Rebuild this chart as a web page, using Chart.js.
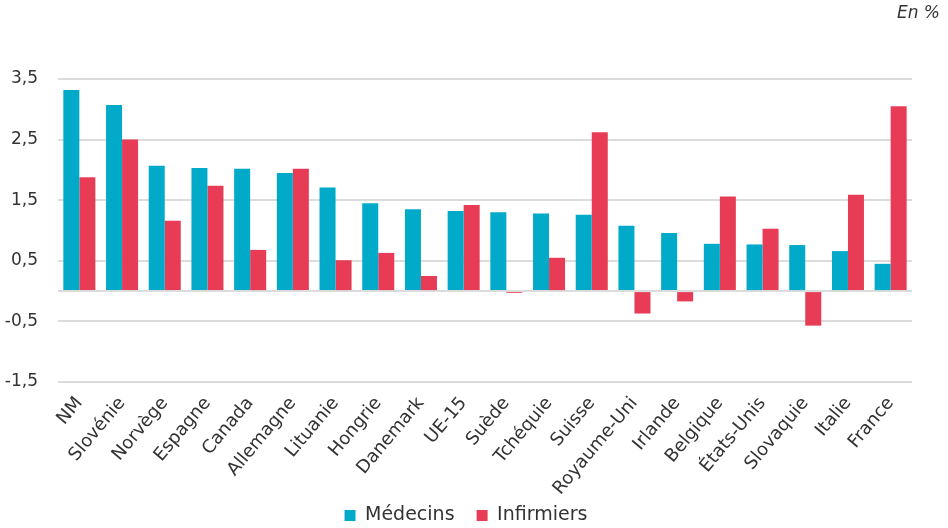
<!DOCTYPE html>
<html>
<head>
<meta charset="utf-8">
<script src="https://cdn.jsdelivr.net/npm/chart.js@4/dist/chart.umd.min.js"></script>
<style>
  html, body { margin: 0; padding: 0; background: #fff; }
  #wrap { width: 948px; height: 528px; position: relative; }
</style>
</head>
<body>
<div id="wrap"><canvas id="chart"></canvas></div>
<script>
const categories = ['NM', 'Slovénie', 'Norvège', 'Espagne', 'Canada', 'Allemagne', 'Lituanie', 'Hongrie', 'Danemark', 'UE-15',
  'Suède', 'Tchéquie', 'Suisse', 'Royaume-Uni', 'Irlande', 'Belgique', 'États-Unis', 'Slovaquie', 'Italie', 'France']
const medecins = [3.32, 3.07, 2.07, 2.03, 2.02, 1.95, 1.71, 1.45, 1.35, 1.32,
  1.30, 1.28, 1.26, 1.08, 0.96, 0.78, 0.77, 0.76, 0.66, 0.45]
const infirmiers = [1.88, 2.50, 1.16, 1.74, 0.68, 2.02, 0.51, 0.63, 0.25, 1.42,
  -0.03, 0.55, 2.62, -0.37, -0.17, 1.56, 1.03, -0.57, 1.59, 3.05]
const yMin = -1.5, yMax = 3.5, yStep = 1
const unitLabel = 'En %'

window.addEventListener('DOMContentLoaded', () => {
  const font = '"DejaVu Sans", sans-serif'

  // "En %" sits in the top right corner, outside the plot's right edge
  const unitPlugin = {
    id: 'unit',
    afterDraw: chart => {
      const ctx = chart.ctx
      ctx.save()
      ctx.font = 'italic 17px ' + font
      ctx.fillStyle = '#333'
      ctx.textAlign = 'right'
      ctx.textBaseline = 'middle'
      ctx.fillText(unitLabel, chart.width - 8, 14)
      ctx.restore()
    }
  }

  new Chart(document.getElementById('chart').getContext('2d'), {
    type: 'bar',
    data: {
      labels: categories,
      datasets: [
        { label: 'Médecins', data: medecins, backgroundColor: '#00aac8' },
        { label: 'Infirmiers', data: infirmiers, backgroundColor: '#e83c56' }
      ]
    },
    plugins: [unitPlugin],
    options: {
      responsive: true,
      maintainAspectRatio: false,
      animation: false,
      layout: { padding: { top: 79, right: 4, left: 0, bottom: -7 } },
      datasets: {
        bar: { categoryPercentage: 0.75, barPercentage: 1 }
      },
      plugins: {
        legend: {
          position: 'bottom',
          labels: {
            boxWidth: 11,
            boxHeight: 11,
            color: '#333',
            font: { family: font, size: 19 },
            padding: 10,
            // two trailing spaces widen the gap between the items without a taller legend
            generateLabels: chart => Chart.defaults.plugins.legend.labels.generateLabels(chart)
              .map(item => ({ ...item, text: item.text + '  ' }))
          }
        },
        tooltip: { enabled: false }
      },
      scales: {
        x: {
          grid: { display: false },
          border: { display: false },
          afterFit: scale => { scale.height = 114 },
          ticks: {
            color: '#333',
            font: { family: font, size: 18 },
            maxRotation: 50,
            minRotation: 50,
            autoSkip: false
          }
        },
        y: {
          min: yMin,
          max: yMax,
          afterFit: scale => { scale.width = 58 },
          afterBuildTicks: scale => {
            scale.ticks.push({ value: 0 })
            scale.ticks.sort((a, b) => a.value - b.value)
          },
          ticks: {
            stepSize: yStep,
            color: '#333',
            padding: 20,
            font: { family: font, size: 17 },
            callback: v => v === 0 ? '' : String(v).replace('.', ',')
          },
          grid: { color: '#dcdcdc', lineWidth: 2, drawTicks: false },
          border: { display: false }
        },
        // empty strip on the right so the plot stops short of the "En %" corner
        yRight: {
          position: 'right',
          grid: { display: false },
          border: { display: false },
          ticks: { display: false },
          afterFit: scale => { scale.width = 32 }
        }
      }
    }
  })
})
</script>
</body>
</html>
